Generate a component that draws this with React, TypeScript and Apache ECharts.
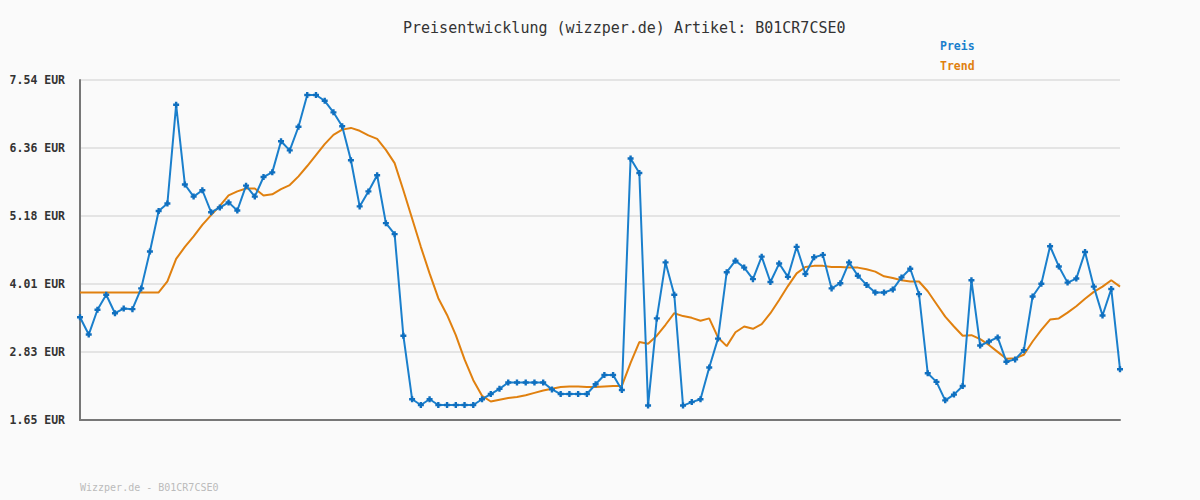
import React, { useEffect, useRef } from "react";
import * as echarts from "echarts";

const titleText = "Preisentwicklung (wizzper.de) Artikel: B01CR7CSE0";
const footerText = "Wizzper.de - B01CR7CSE0";
const yTicks = [1.65, 2.83, 4.01, 5.18, 6.36, 7.54];

const preis = [
  3.43, 3.13, 3.56, 3.82, 3.5, 3.58, 3.57, 3.93, 4.57, 5.27,
  5.4, 7.11, 5.73, 5.52, 5.63, 5.25, 5.33, 5.42, 5.28, 5.71,
  5.52, 5.86, 5.94, 6.48, 6.32, 6.73, 7.28, 7.28, 7.18, 6.98,
  6.74, 6.15, 5.35, 5.61, 5.89, 5.06, 4.87, 3.11, 2.01, 1.91,
  2.01, 1.91, 1.91, 1.91, 1.91, 1.91, 2.01, 2.1, 2.19, 2.3,
  2.3, 2.3, 2.3, 2.3, 2.18, 2.1, 2.1, 2.1, 2.1, 2.27,
  2.43, 2.43, 2.17, 6.18, 5.93, 1.9, 3.41, 4.38, 3.82, 1.9,
  1.96, 2.01, 2.56, 3.06, 4.21, 4.41, 4.29, 4.09, 4.48, 4.04,
  4.36, 4.13, 4.65, 4.18, 4.47, 4.51, 3.93, 4.02, 4.38, 4.15,
  3.99, 3.86, 3.86, 3.91, 4.12, 4.27, 3.83, 2.46, 2.31, 1.99,
  2.09, 2.24, 4.07, 2.94, 3.01, 3.08, 2.66, 2.7, 2.86, 3.79,
  4.01, 4.66, 4.31, 4.03, 4.1, 4.56, 3.96, 3.46, 3.92, 2.53,
];

const trend = [
  3.86, 3.86, 3.86, 3.86, 3.86, 3.86, 3.86, 3.86, 3.86, 3.86,
  4.05, 4.44, 4.65, 4.83, 5.03, 5.2, 5.36, 5.54, 5.61, 5.66,
  5.66, 5.54, 5.56, 5.65, 5.72, 5.87, 6.05, 6.24, 6.43, 6.59,
  6.68, 6.71, 6.66, 6.58, 6.52, 6.33, 6.1, 5.63, 5.14, 4.65,
  4.19, 3.76, 3.47, 3.12, 2.7, 2.34, 2.07, 1.97, 2.0, 2.03,
  2.05, 2.08, 2.12, 2.16, 2.19, 2.22, 2.23, 2.23, 2.22, 2.22,
  2.23, 2.24, 2.24, 2.64, 3.0, 2.97, 3.11, 3.3, 3.5, 3.45,
  3.42, 3.37, 3.41, 3.08, 2.93, 3.17, 3.27, 3.23, 3.31, 3.5,
  3.73, 3.97, 4.19, 4.3, 4.32, 4.32, 4.3, 4.3, 4.29, 4.29,
  4.26, 4.22, 4.14, 4.11, 4.07, 4.05, 4.05, 3.88, 3.66, 3.44,
  3.27, 3.11, 3.12, 3.05, 2.95, 2.83, 2.71, 2.72, 2.78, 3.01,
  3.21, 3.39, 3.41, 3.51, 3.62, 3.75, 3.87, 3.96, 4.07, 3.96,
];

const categories = preis.map((_, i) => String(i + 1));

const MONO = "'DejaVu Sans Mono', monospace";
const BLUE = "#1a7fcc";
const MARK = "#0f6fbf";
const ORANGE = "#e0800f";

export default function App() {
  const ref = useRef<HTMLDivElement>(null);
  useEffect(() => {
    if (!ref.current) return;
    const chart = echarts.init(ref.current, undefined, { renderer: "svg" });
    chart.setOption({
      animation: false,
      backgroundColor: "#fafafa",
      grid: { left: 80, right: 80, top: 80, bottom: 80, containLabel: false },
      graphic: [
        {
          type: "text",
          x: 403,
          y: 20,
          style: { text: titleText, font: `15px ${MONO}`, fill: "#333" },
        },
        {
          type: "text",
          x: 940,
          y: 40,
          style: { text: "Preis", font: `bold 11.5px ${MONO}`, fill: BLUE },
        },
        {
          type: "text",
          x: 940,
          y: 60,
          style: { text: "Trend", font: `bold 11.5px ${MONO}`, fill: ORANGE },
        },
        {
          type: "text",
          x: 80,
          y: 482,
          style: { text: footerText, font: `10px ${MONO}`, fill: "#bbb" },
        },
      ],
      xAxis: {
        type: "category",
        data: categories,
        boundaryGap: false,
        axisLine: { show: true, lineStyle: { color: "#777", width: 2 } },
        axisTick: { show: false },
        axisLabel: { show: false },
        splitLine: { show: false },
      },
      yAxis: {
        type: "value",
        min: 1.65,
        max: 7.54,
        axisLine: { show: true, lineStyle: { color: "#777", width: 2 } },
        axisTick: { show: false, customValues: yTicks },
        axisLabel: {
          customValues: yTicks,
          formatter: (v: number) => v.toFixed(2) + " EUR",
          fontFamily: MONO,
          fontWeight: "bold",
          fontSize: 11.5,
          color: "#333",
          margin: 15,
        },
        splitLine: { show: true, lineStyle: { color: "#e4e4e4", width: 2 } },
      },
      series: [
        {
          name: "Trend",
          type: "line",
          data: trend,
          showSymbol: false,
          symbol: "none",
          lineStyle: { color: ORANGE, width: 2 },
          itemStyle: { color: ORANGE },
          z: 2,
        },
        {
          name: "Preis",
          type: "line",
          data: preis,
          symbol: "path://M1.5,0H3.5V1.5H5V3.5H3.5V5H1.5V3.5H0V1.5H1.5Z",
          symbolSize: 6,
          showAllSymbol: true,
          lineStyle: { color: BLUE, width: 2 },
          itemStyle: { color: MARK },
          z: 3,
        },
      ],
    });
    return () => chart.dispose();
  }, []);
  return (
    <div
      ref={ref}
      style={{ position: "fixed", left: 0, top: 0, width: 1200, height: 500 }}
    />
  );
}
